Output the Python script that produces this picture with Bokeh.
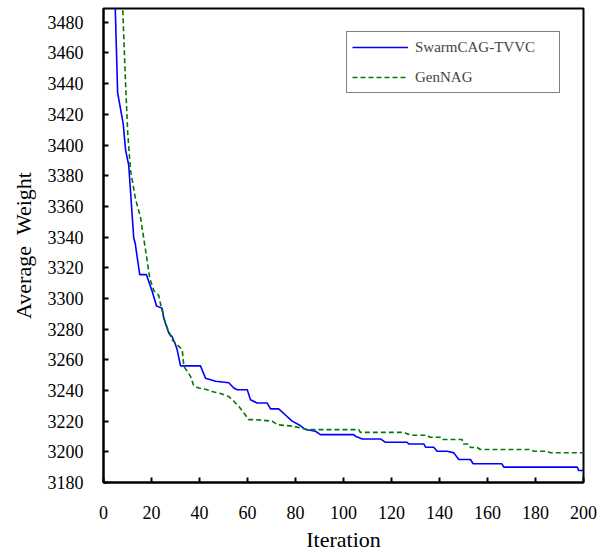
from bokeh.plotting import figure
from bokeh.models import FixedTicker, Range1d, Legend, LegendItem
from bokeh.embed import file_html
from bokeh.resources import INLINE

# ---- data ----
swarm_iter = [3, 4.9, 5.9, 8.2, 9.2, 10.5, 12.6, 13.2, 15.1, 17.9, 20.3, 22.1, 23.75, 24.4, 25.1,
              27.2, 28.6, 30, 30.7, 32.1, 40.4, 42.5, 44.6, 46.7, 52.2, 54.3, 55.7, 59.9, 61.25,
              64, 68.2, 69.6, 73, 75.8, 78.6, 81.4, 84.2, 88.3, 90.4, 104.3, 105, 107.8, 115.4,
              117.5, 126.5, 127.2, 133.5, 134.2, 137.6, 139, 143.2, 146, 148, 152.9, 154, 166,
              166.8, 197.4, 198, 200]
swarm_val = [3560, 3489, 3434, 3414, 3396.7, 3387, 3339.4, 3336, 3315.5, 3315.5, 3304.5, 3295,
             3294, 3293.6, 3287, 3277.4, 3275, 3269.8, 3266.5, 3256, 3256, 3248, 3247, 3246,
             3245, 3241.6, 3240.5, 3240.5, 3234, 3231.8, 3231.8, 3228, 3228, 3224, 3220, 3217.7,
             3214.5, 3213.4, 3211.2, 3211.2, 3210.1, 3208.4, 3208.4, 3206.2, 3206.2, 3205.1,
             3205.1, 3203, 3203, 3200.4, 3200.4, 3199.3, 3195, 3195, 3192.2, 3192.2, 3190, 3190,
             3187.8, 3187.8]

gen_iter = [7, 8.0, 9.2, 10.1, 11.25, 12, 13.3, 15.4, 17.5, 19.3, 21, 23, 24, 25.8, 28.6, 30.7,
            32.8, 33.5, 36.25, 37.6, 39.7, 43.2, 46, 48.75, 52.2, 54.3, 56.4, 58.5, 60.5, 63.3,
            70.3, 72.4, 79.3, 82, 84.9, 106.4, 107, 125, 126.5, 128.6, 134.8, 136, 140.4, 141.1,
            149.4, 150, 152.2, 152.9, 155.7, 157, 177.9, 179.3, 184.6, 186.25, 200]
gen_val = [3540, 3489, 3440, 3407.7, 3383.6, 3377, 3365, 3353, 3331.6, 3313, 3305, 3302, 3294.7,
           3284, 3273, 3269.8, 3266.5, 3255.7, 3249.2, 3243, 3241.6, 3240.5, 3239, 3238, 3236,
           3233, 3229.6, 3225.3, 3221, 3221, 3220, 3217.7, 3216.6, 3215.6, 3214.5, 3214.5,
           3212.7, 3212.7, 3211.7, 3210.8, 3210.8, 3209.5, 3209.5, 3208, 3208, 3205.1, 3205.1,
           3202.8, 3202.8, 3201.5, 3201.5, 3200.4, 3200.4, 3199.4, 3199.4]

x_ticks = list(range(0, 201, 20))
y_ticks = list(range(3180, 3481, 20))

FONT = "Liberation Serif"

p = figure(width=601, height=554, output_backend="svg", toolbar_location=None,
           x_range=Range1d(0, 200), y_range=Range1d(3180, 3489),
           min_border_left=103, min_border_right=18, min_border_top=8, min_border_bottom=71)

p.grid.visible = False
p.outline_line_color = "black"
p.outline_line_width = 2
p.background_fill_color = "white"
p.border_fill_color = "white"

r1 = p.line(swarm_iter, swarm_val, line_color="#0000ff", line_width=1.6)
r2 = p.line(gen_iter, gen_val, line_color="#007a00", line_width=1.6, line_dash="5 3")

for ax in (p.xaxis[0], p.yaxis[0]):
    ax.axis_line_color = "black"
    ax.axis_line_width = 2
    ax.major_tick_in = 5
    ax.major_tick_out = 0
    ax.major_tick_line_width = 2
    ax.minor_tick_line_color = None
    ax.major_label_text_font = FONT
    ax.major_label_text_font_size = "18px"
    ax.major_label_text_color = "black"
    ax.axis_label_text_font = FONT
    ax.axis_label_text_font_size = "22px"
    ax.axis_label_text_font_style = "normal"
    ax.axis_label_text_color = "black"

p.xaxis.ticker = FixedTicker(ticks=x_ticks)
p.yaxis.ticker = FixedTicker(ticks=y_ticks)
p.xaxis.axis_label = "Iteration"
p.yaxis.axis_label = "Average\u00a0\u00a0Weight"
p.xaxis.major_label_standoff = 23
p.yaxis.major_label_standoff = 20
p.xaxis.axis_label_standoff = 5
p.yaxis.axis_label_standoff = 9

legend = Legend(items=[LegendItem(label="SwarmCAG-TVVC", renderers=[r1]),
                       LegendItem(label="GenNAG", renderers=[r2])],
                location="top_right", margin=23, padding=5, spacing=10,
                glyph_width=56, glyph_height=20, label_standoff=7, label_width=139,
                label_text_font=FONT, label_text_font_size="15px",
                border_line_color="black", border_line_width=1.5,
                background_fill_alpha=1.0)
p.add_layout(legend)

open("out.html", "w").write(file_html(p, INLINE))
